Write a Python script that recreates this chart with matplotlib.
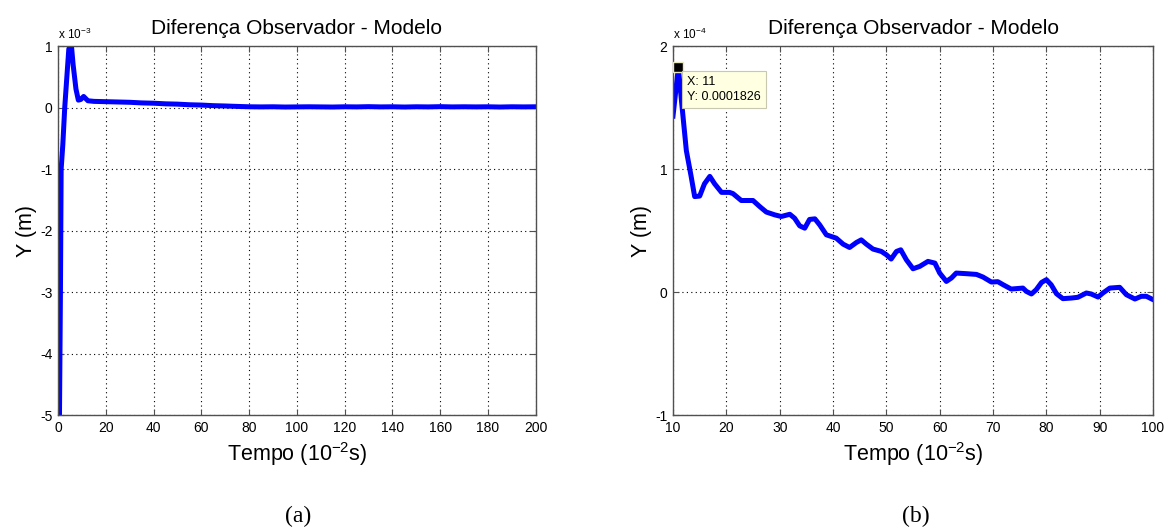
import numpy as np
import matplotlib
matplotlib.use("Agg")
import matplotlib.pyplot as plt
from matplotlib.ticker import FuncFormatter

plt.rcParams['font.family'] = ['Liberation Sans', 'DejaVu Sans']
plt.rcParams['mathtext.default'] = 'regular'

# (a) observer - model difference, time in 1e-2 s, Y in 1e-3 m
t_a = [0, 0.5, 1.0, 1.3, 2.0, 2.8, 3.6, 4.5, 5.5, 6.3, 7.5, 8.5, 9.5, 10.7, 12.5,
       15, 20, 25, 30, 35, 40, 45, 50, 55, 60, 65, 70, 75, 80, 85, 90, 95,
       100, 105, 110, 115, 120, 125, 130, 135, 140, 145, 150, 155, 160, 165,
       170, 175, 180, 185, 190, 195, 200]
y_a = [-7.0, -5.5, -3.0, -1.0, -0.6, 0.0, 0.45, 0.95, 1.05, 0.7, 0.3, 0.12, 0.13, 0.18, 0.11,
       0.10, 0.095, 0.09, 0.085, 0.075, 0.07, 0.06, 0.055, 0.045, 0.04, 0.03, 0.025, 0.018, 0.012, 0.01, 0.012, 0.008,
       0.01, 0.012, 0.01, 0.008, 0.012, 0.01, 0.014, 0.01, 0.012, 0.008, 0.012, 0.01, 0.014, 0.01,
       0.012, 0.01, 0.012, 0.008, 0.012, 0.01, 0.012]
scale_a = 1e-3

# (b) zoom on 10..100, Y in 1e-4 m
t_b = [10, 11, 11.6, 12.5, 13.4, 14.06, 15, 15.9, 16.9, 17.8, 19.1, 20.6, 21.25, 22.8, 23.75,
       25, 26.25, 27.5, 29.1, 30.3, 31.9, 32.8, 33.75, 34.7, 35.6, 36.6, 37.5, 38.75, 40.6,
       41.9, 43.1, 44.4, 45.3, 46.25, 47.5, 49.06, 50, 50.9, 51.9, 52.7, 53.75, 55, 56.25,
       57.8, 59.1, 60, 61.25, 62.2, 63.1, 65, 66.9, 68.1, 69.7, 70.9, 71.9, 73.4, 75.6,
       76.25, 77.2, 78.1, 79.1, 80, 80.9, 81.9, 83.1, 84.7, 85.9, 87.5, 88.4, 89.7, 90.6,
       91.9, 93.75, 95, 96.6, 97.8, 98.75, 100]
y_b = [1.43, 1.826, 1.55, 1.15, 0.94, 0.776, 0.78, 0.88, 0.94, 0.88, 0.81, 0.81, 0.80, 0.744, 0.744,
       0.744, 0.695, 0.65, 0.627, 0.614, 0.632, 0.60, 0.538, 0.519, 0.59, 0.595, 0.546, 0.465, 0.438,
       0.389, 0.362, 0.403, 0.424, 0.389, 0.349, 0.33, 0.303, 0.268, 0.33, 0.343, 0.262, 0.189, 0.208,
       0.249, 0.235, 0.154, 0.086, 0.114, 0.154, 0.149, 0.143, 0.122, 0.081, 0.084, 0.059, 0.024, 0.032,
       0.005, -0.016, 0.019, 0.078, 0.10, 0.059, -0.014, -0.054, -0.049, -0.043, -0.008, -0.016, -0.041, -0.008,
       0.032, 0.038, -0.022, -0.057, -0.035, -0.035, -0.062]
scale_b = 1e-4

tip_x = 11
tip_y = 0.0001826

title = "Diferença Observador - Modelo"
xlabel = "Tempo (10$^{-2}$s)"
ylabel = "Y (m)"

fig = plt.figure(figsize=(11.68, 5.29), dpi=100)
ax_a = fig.add_axes([0.0497, 0.2155, 0.409, 0.6975])
ax_b = fig.add_axes([0.5762, 0.2155, 0.411, 0.6975])

spine_col = '#505050'


def style(ax, scale, exp_txt):
    ax.grid(True, linestyle=(0, (1, 3)), color='black', linewidth=0.8)
    ax.tick_params(direction='in', length=4, top=True, right=True,
                   labelsize=10, color=spine_col, pad=4)
    for s in ax.spines.values():
        s.set_color(spine_col)
        s.set_linewidth(1.0)
    ax.yaxis.set_major_formatter(FuncFormatter(lambda v, p: f"{v/scale:g}"))
    ax.set_title(title, fontsize=15, pad=9)
    ax.set_xlabel(xlabel, fontsize=15.5, labelpad=4)
    ax.set_ylabel(ylabel, fontsize=15.5, labelpad=2)
    ax.text(0.0, 1.012, "x 10$^{" + exp_txt + "}$", transform=ax.transAxes,
            fontsize=8.5, ha='left', va='bottom')


ax_a.plot(t_a, np.array(y_a) * scale_a, color='#0000ff', linewidth=3.6,
          solid_joinstyle='round')
ax_a.set_xlim(0, 200)
ax_a.set_ylim(-5e-3, 1e-3)
ax_a.set_xticks(np.arange(0, 201, 20))
ax_a.set_yticks(np.arange(-5, 2) * scale_a)
style(ax_a, scale_a, "-3")

ax_b.plot(t_b, np.array(y_b) * scale_b, color='#0000ff', linewidth=3.6,
          solid_joinstyle='round')
ax_b.set_xlim(10, 100)
ax_b.set_ylim(-1e-4, 2e-4)
ax_b.set_xticks(np.arange(10, 101, 10))
ax_b.set_yticks(np.arange(-1, 3) * scale_b)
style(ax_b, scale_b, "-4")

# data cursor
ax_b.plot([tip_x], [tip_y], marker='s', markersize=7, color='black',
          markeredgecolor='#e8e8c0', markeredgewidth=1, clip_on=False, zorder=5)
ax_b.annotate(f"X: {tip_x}\nY: {tip_y:.7f}", xy=(tip_x, tip_y), xytext=(9, -9),
              textcoords='offset pixels', ha='left', va='top', fontsize=9,
              linespacing=1.3,
              bbox=dict(boxstyle='square,pad=0.4', fc='#ffffe1', ec='#c8c8b0', lw=0.8),
              zorder=6)

fig.text(0.255, 0.014, "(a)", fontsize=17, family='Liberation Serif', ha='center')
fig.text(0.784, 0.014, "(b)", fontsize=17, family='Liberation Serif', ha='center')

fig.savefig("out.png", dpi=100)
